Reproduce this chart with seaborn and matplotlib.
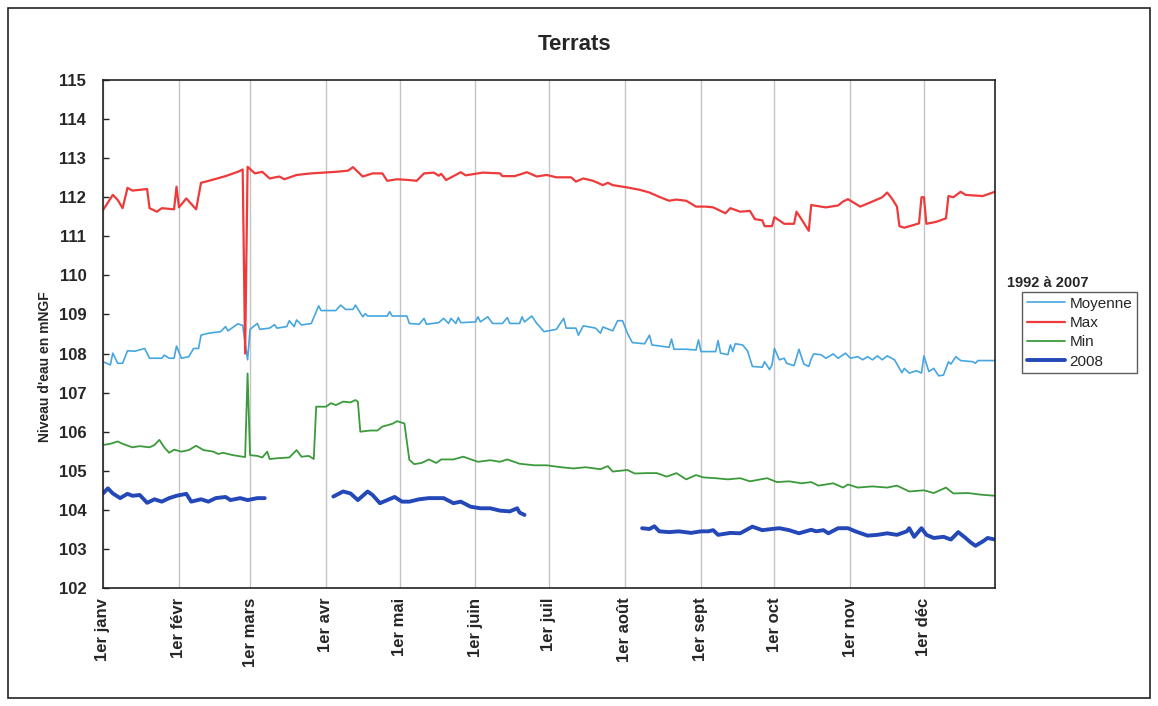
import numpy as np
import pandas as pd
import matplotlib
matplotlib.use("Agg")
import matplotlib.pyplot as plt
from matplotlib.lines import Line2D
from matplotlib.patches import Rectangle
import seaborn as sns

# niveaux d'eau journaliers (jour de l'annee, niveau en mNGF)
jours_max = [0, 4, 6, 8, 10, 12, 18, 19, 22, 24, 29, 30, 31, 34, 38, 40, 42, 46, 50, 55, 57, 58, 59,
             62, 65, 68, 72, 74, 79, 85, 90, 95, 100, 102, 106, 110, 114, 116, 120, 125, 128, 131,
             135, 137, 138, 140, 146, 148, 155, 162, 163, 168, 173, 177, 181, 185, 191, 193, 196,
             200, 204, 206, 208, 214, 219, 223, 227, 231, 234, 238, 242, 246, 249, 254, 256, 260,
             264, 266, 269, 270, 273, 274, 278, 282, 283, 285, 288, 289, 295, 300, 302, 304, 309,
             314, 318, 320, 322, 324, 325, 327, 333, 334, 335, 336, 340, 344, 345, 347, 350, 352,
             359, 364]
niveau_max = [111.67, 112.06, 111.93, 111.72, 112.24, 112.17, 112.21, 111.72, 111.63, 111.72, 111.69,
              112.27, 111.74, 111.97, 111.69, 112.37, 112.40, 112.47, 112.54, 112.65, 112.71, 108.0,
              112.78, 112.61, 112.65, 112.48, 112.53, 112.46, 112.57, 112.61, 112.63, 112.65, 112.68,
              112.77, 112.53, 112.61, 112.61, 112.42, 112.46, 112.44, 112.42, 112.61, 112.63, 112.55,
              112.60, 112.44, 112.64, 112.56, 112.63, 112.61, 112.54, 112.54, 112.64, 112.53, 112.57,
              112.51, 112.51, 112.40, 112.48, 112.42, 112.31, 112.37, 112.31, 112.25, 112.19, 112.12,
              112.01, 111.91, 111.94, 111.91, 111.76, 111.76, 111.74, 111.59, 111.72, 111.63, 111.65,
              111.44, 111.41, 111.26, 111.26, 111.49, 111.32, 111.32, 111.63, 111.44, 111.14, 111.80,
              111.74, 111.79, 111.89, 111.95, 111.76, 111.89, 112.00, 112.12, 111.96, 111.76, 111.26,
              111.22, 111.33, 112.00, 112.00, 111.32, 111.37, 111.46, 112.03, 112.00, 112.14, 112.06,
              112.03, 112.14]

jours_moy = [0, 3, 4, 6, 8, 10, 13, 17, 19, 24, 25, 27, 29, 30, 32, 35, 37, 39, 40, 43, 48, 50, 51,
             55, 57, 59, 60, 63, 64, 68, 70, 71, 75, 76, 78, 79, 81, 85, 88, 89, 95, 97, 99, 102,
             103, 106, 107, 108, 116, 117, 118, 124, 125, 129, 131, 132, 137, 139, 141, 142, 144,
             145, 146, 152, 153, 154, 157, 159, 163, 165, 166, 170, 171, 172, 175, 177, 180, 185,
             188, 189, 193, 194, 196, 201, 203, 204, 208, 210, 212, 214, 216, 221, 223, 224, 231,
             232, 233, 238, 242, 243, 244, 250, 251, 252, 255, 256, 257, 258, 261, 263, 265, 269,
             270, 272, 273, 274, 276, 278, 279, 282, 284, 286, 288, 289, 290, 293, 295, 298, 300,
             303, 305, 308, 310, 312, 314, 316, 318, 320, 323, 326, 327, 329, 332, 334, 335, 337,
             339, 341, 343, 344, 345, 346, 348, 350, 355, 356, 357, 364]
niveau_moy = [107.79, 107.71, 108.01, 107.75, 107.75, 108.07, 108.06, 108.13, 107.88, 107.88, 107.96,
              107.88, 107.88, 108.19, 107.88, 107.92, 108.13, 108.13, 108.47, 108.52, 108.56, 108.69,
              108.58, 108.76, 108.72, 107.84, 108.62, 108.77, 108.62, 108.65, 108.74, 108.65, 108.69,
              108.84, 108.69, 108.86, 108.73, 108.77, 109.22, 109.10, 109.10, 109.24, 109.13, 109.13,
              109.24, 108.94, 109.02, 108.96, 108.96, 109.07, 108.96, 108.96, 108.77, 108.75, 108.90,
              108.75, 108.79, 108.90, 108.77, 108.90, 108.77, 108.92, 108.79, 108.81, 108.94, 108.81,
              108.94, 108.77, 108.77, 108.92, 108.77, 108.77, 108.94, 108.81, 108.96, 108.77, 108.56,
              108.62, 108.90, 108.65, 108.65, 108.47, 108.71, 108.65, 108.52, 108.68, 108.58, 108.84,
              108.84, 108.52, 108.28, 108.25, 108.47, 108.22, 108.16, 108.37, 108.11, 108.11, 108.09,
              108.35, 108.05, 108.05, 108.33, 108.01, 107.97, 108.22, 108.05, 108.25, 108.22, 108.07,
              107.67, 107.65, 107.79, 107.59, 107.71, 108.13, 107.84, 107.88, 107.75, 107.69, 108.11,
              107.73, 107.67, 107.86, 107.99, 107.97, 107.88, 107.99, 107.88, 108.01, 107.88, 107.92,
              107.84, 107.92, 107.84, 107.94, 107.84, 107.94, 107.84, 107.51, 107.62, 107.50, 107.56,
              107.50, 107.94, 107.54, 107.62, 107.43, 107.45, 107.62, 107.79, 107.73, 107.92, 107.82,
              107.79, 107.75, 107.82, 107.82]

jours_min = [0, 3, 6, 8, 12, 15, 19, 21, 23, 25, 27, 29, 32, 35, 38, 41, 45, 47, 49, 53, 58, 59, 60,
             63, 65, 67, 68, 71, 76, 79, 81, 84, 86, 87, 91, 93, 95, 98, 101, 103, 104, 105, 109,
             112, 114, 118, 120, 123, 125, 127, 130, 133, 136, 138, 143, 147, 153, 158, 162, 165,
             170, 176, 181, 187, 192, 197, 203, 206, 208, 214, 217, 222, 226, 230, 234, 238, 242,
             245, 250, 255, 260, 264, 271, 275, 280, 285, 289, 292, 298, 302, 304, 308, 314, 320,
             324, 329, 335, 339, 344, 347, 353, 358, 364]
niveau_min = [105.66, 105.69, 105.75, 105.69, 105.60, 105.63, 105.60, 105.66, 105.79, 105.60, 105.46,
              105.54, 105.49, 105.53, 105.64, 105.53, 105.49, 105.43, 105.46, 105.40, 105.35, 107.49,
              105.40, 105.38, 105.34, 105.49, 105.30, 105.32, 105.34, 105.53, 105.36, 105.38, 105.30,
              106.64, 106.64, 106.73, 106.68, 106.77, 106.75, 106.81, 106.77, 106.00, 106.03, 106.03,
              106.13, 106.20, 106.27, 106.21, 105.28, 105.17, 105.20, 105.29, 105.20, 105.29, 105.29,
              105.36, 105.23, 105.27, 105.23, 105.29, 105.18, 105.14, 105.14, 105.09, 105.06, 105.09,
              105.04, 105.12, 104.98, 105.02, 104.93, 104.94, 104.94, 104.85, 104.94, 104.78, 104.89,
              104.83, 104.81, 104.78, 104.81, 104.73, 104.81, 104.71, 104.73, 104.68, 104.71, 104.62,
              104.68, 104.57, 104.65, 104.57, 104.60, 104.57, 104.62, 104.47, 104.50, 104.43, 104.57,
              104.42, 104.43, 104.39, 104.36]

# 2008 : nan = periode sans mesure
jours_2008 = [0, 2, 4, 7, 10, 12, 15, 18, 21, 24, 27, 30, 34, 36, 40, 43, 46, 50, 52, 56, 59, 63, 66,
              80,
              94, 98, 101, 104, 108, 110, 113, 116, 119, 122, 125, 129, 133, 139, 143, 146, 150, 154,
              158, 162, 166, 169, 170, 172,
              196,
              220, 223, 225, 227, 231, 235, 240, 244, 247, 249, 251, 256, 260, 265, 269, 273, 276,
              280, 284, 289, 291, 294, 296, 300, 304, 307, 312, 316, 320, 324, 328, 329, 331, 334,
              336, 339, 343, 346, 349, 352, 354, 356, 359, 361, 364]
niveau_2008 = [104.42, 104.55, 104.42, 104.30, 104.41, 104.36, 104.38, 104.18, 104.27, 104.21, 104.30,
               104.36, 104.41, 104.21, 104.27, 104.21, 104.30, 104.33, 104.25, 104.30, 104.25, 104.30,
               104.30,
               np.nan,
               104.34, 104.47, 104.42, 104.25, 104.47, 104.38, 104.17, 104.25, 104.33, 104.21, 104.21,
               104.27, 104.30, 104.30, 104.17, 104.21, 104.08, 104.04, 104.04, 103.98, 103.96, 104.04,
               103.93, 103.87,
               np.nan,
               103.53, 103.51, 103.58, 103.45, 103.43, 103.45, 103.41, 103.45, 103.45, 103.48, 103.36,
               103.41, 103.40, 103.57, 103.48, 103.51, 103.53, 103.48, 103.40, 103.49, 103.45, 103.48,
               103.40, 103.53, 103.53, 103.45, 103.34, 103.36, 103.40, 103.36, 103.45, 103.53, 103.31,
               103.53, 103.36, 103.28, 103.31, 103.24, 103.43, 103.28, 103.17, 103.08, 103.19, 103.28,
               103.24]

debut_mois = [0, 31, 60, 91, 121, 152, 182, 213, 244, 274, 305, 335]
noms_mois = ["1er janv", "1er févr", "1er mars", "1er avr", "1er mai", "1er juin",
             "1er juil", "1er août", "1er sept", "1er oct", "1er nov", "1er déc"]

couleurs = {"Moyenne": "#45a6e0", "Max": "#ee3a3a", "Min": "#3b9a3b", "2008": "#2448b8"}
epaisseurs = {"Moyenne": 1.2, "Max": 1.6, "Min": 1.3, "2008": 2.8}

sns.set_style("white")
plt.rcParams["font.family"] = ["Liberation Sans", "DejaVu Sans"]

fig = plt.figure(figsize=(11.58, 7.06), dpi=100)
ax = fig.add_axes([103 / 1158, 1 - 588 / 706, 892 / 1158, 508 / 706])

# cadre exterieur du graphique
fig.patches.append(Rectangle((8 / 1158, 8 / 706), 1142 / 1158, 690 / 706, transform=fig.transFigure,
                             fill=False, edgecolor="#222222", linewidth=1.2))

df_moy = pd.DataFrame({"jour": jours_moy, "niveau": niveau_moy})
df_max = pd.DataFrame({"jour": jours_max, "niveau": niveau_max})
df_min = pd.DataFrame({"jour": jours_min, "niveau": niveau_min})
df_2008 = pd.DataFrame({"jour": jours_2008, "niveau": niveau_2008})
df_2008["segment"] = df_2008["niveau"].isna().cumsum()
df_2008 = df_2008.dropna()

sns.lineplot(data=df_moy, x="jour", y="niveau", ax=ax, color=couleurs["Moyenne"], lw=epaisseurs["Moyenne"])
sns.lineplot(data=df_max, x="jour", y="niveau", ax=ax, color=couleurs["Max"], lw=epaisseurs["Max"])
sns.lineplot(data=df_min, x="jour", y="niveau", ax=ax, color=couleurs["Min"], lw=epaisseurs["Min"])
sns.lineplot(data=df_2008, x="jour", y="niveau", units="segment", estimator=None, ax=ax,
             color=couleurs["2008"], lw=epaisseurs["2008"])

ax.set_xlim(0, 364)
ax.set_ylim(102, 115)
ax.set_yticks(range(102, 116))
ax.set_xticks(debut_mois)
ax.set_xticklabels(noms_mois, rotation=90, fontsize=12, fontweight="bold")
ax.tick_params(axis="y", labelsize=12, length=4, width=1, direction="in", left=True, pad=12)
ax.tick_params(axis="x", length=0, pad=7)
for lbl in ax.get_yticklabels():
    lbl.set_fontweight("bold")
ax.grid(axis="x", color="#c4c4c4", linewidth=1)
for sp in ax.spines.values():
    sp.set_color("#222222")
    sp.set_linewidth(1.2)
ax.set_xlabel("")
ax.set_ylabel("")

fig.text(575 / 1158, 1 - 44 / 706, "Terrats", ha="center", va="center", fontsize=16, fontweight="bold")
fig.text(45 / 1158, 1 - 367 / 706, "Niveau d'eau en mNGF", rotation=90, ha="center", va="center",
         fontsize=10, fontweight="bold")

# legende
fig.text(1007 / 1158, 1 - 283 / 706, "1992 à 2007", ha="left", va="center", fontsize=10.5, fontweight="bold")
poignees = [Line2D([0], [0], color=couleurs[k], lw=epaisseurs[k]) for k in ["Moyenne", "Max", "Min", "2008"]]
leg = ax.legend(poignees, ["Moyenne", "Max", "Min", "2008"], loc="upper left",
                bbox_to_anchor=(1022 / 1158, 1 - 292 / 706), bbox_transform=fig.transFigure,
                borderaxespad=0, fontsize=11, frameon=True, fancybox=False, handlelength=2.5,
                handletextpad=0.3, labelspacing=0.35, borderpad=0.3)
leg.get_frame().set_edgecolor("#333333")
leg.get_frame().set_linewidth(1)

fig.savefig("out.png", dpi=100)
